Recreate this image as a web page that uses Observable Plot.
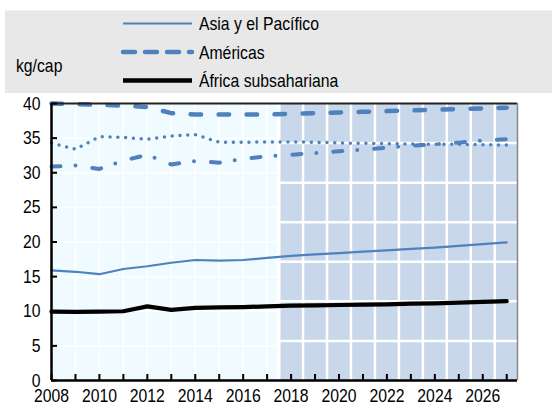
<!DOCTYPE html>
<html>
<head>
<meta charset="utf-8">
<script src="https://cdn.jsdelivr.net/npm/d3@7"></script>
<script src="https://cdn.jsdelivr.net/npm/@observablehq/plot@0.6"></script>
<style>
  html, body { margin: 0; padding: 0; background: #fff; }
  body { width: 552px; height: 405px; overflow: hidden; font-family: "Liberation Sans", Arial, sans-serif; }
  #legend { display: block; }
</style>
</head>
<body>
<div id="chart"></div>
<script>
// ---- data ----
const years = [2008, 2009, 2010, 2011, 2012, 2013, 2014, 2015, 2016, 2017, 2018, 2019, 2020, 2021, 2022, 2023, 2024, 2025, 2026, 2027];
const asiaPacifico = [15.9, 15.7, 15.35, 16.1, 16.5, 17.0, 17.4, 17.3, 17.4, 17.7, 18.0, 18.2, 18.4, 18.6, 18.8, 19.0, 19.2, 19.45, 19.7, 19.95];
const americas = [40.0, 39.9, 39.8, 39.7, 39.5, 38.6, 38.4, 38.4, 38.4, 38.4, 38.5, 38.6, 38.7, 38.8, 38.9, 39.0, 39.1, 39.2, 39.3, 39.4];
const africaSubsahariana = [9.95, 9.9, 9.95, 10.0, 10.7, 10.2, 10.5, 10.55, 10.6, 10.7, 10.8, 10.85, 10.9, 10.95, 11.0, 11.1, 11.15, 11.25, 11.35, 11.45];
const serieDotted = [34.3, 33.4, 35.2, 35.1, 34.85, 35.3, 35.5, 34.4, 34.4, 34.45, 34.45, 34.4, 34.3, 34.25, 34.2, 34.15, 34.1, 34.1, 34.05, 34.0];
const serieDashDot = [30.9, 31.05, 30.55, 31.75, 32.6, 31.2, 31.7, 31.45, 32.0, 32.4, 32.6, 32.85, 33.1, 33.35, 33.6, 33.9, 34.1, 34.35, 34.65, 34.85];
const legendLabels = ["Asia y el Pacífico", "Américas", "África subsahariana"];
const unitLabel = "kg/cap";
const yTicks = [0, 5, 10, 15, 20, 25, 30, 35, 40];
const xLabelYears = [2008, 2010, 2012, 2014, 2016, 2018, 2020, 2022, 2024, 2026];
const firstProjectionYear = 2018;
const projectionRows = 7;

// ---- derived ----
const blue = "#4f81bd";
const xStart = years[0];
const xEnd = years[years.length - 1] + 0.45;
const projStart = firstProjectionYear - 0.5;
const histYears = years.filter(y => y < firstProjectionYear);
const projYears = years.filter(y => y >= firstProjectionYear);
const projBoundaries = projYears.slice(0, -1).map(y => y + 0.5);
const rowLevels = d3.range(1, projectionRows).map(k => 40 * k / projectionRows);
const toRows = arr => years.map((y, i) => ({year: y, v: arr[i]}));
const FONT = '"Liberation Sans", Arial, sans-serif';
const NARROW = 0.83;

// ---- legend ----
const legendStyles = [
  {stroke: blue, width: 2.2, dash: null},
  {stroke: blue, width: 4.5, dash: "12,10"},
  {stroke: "#000", width: 4.5, dash: null}
];
const legendSvg = d3.create("svg").attr("id", "legend").attr("width", 552).attr("height", 93)
  .style("font-family", FONT);
legendSvg.append("rect").attr("x", 5).attr("y", 10.5).attr("width", 547).attr("height", 82.5).attr("fill", "#e8e8e8");
legendSvg.append("text").attr("x", 16).attr("y", 72).attr("font-size", 19).text(unitLabel);
const rowY = [23.5, 52, 80.5];
legendLabels.forEach((lab, i) => {
  const s = legendStyles[i];
  legendSvg.append("line").attr("x1", 123).attr("x2", 192).attr("y1", rowY[i]).attr("y2", rowY[i])
    .attr("stroke", s.stroke).attr("stroke-width", s.width)
    .attr("stroke-dasharray", s.dash).attr("stroke-linecap", s.dash ? "round" : "butt");
  legendSvg.append("text").attr("x", 199).attr("y", rowY[i] + 7).attr("font-size", 19).text(lab);
});

// ---- chart ----
const chart = Plot.plot({
  width: 552,
  height: 312,
  marginLeft: 51,
  marginRight: 35,
  marginTop: 10,
  marginBottom: 25,
  x: {domain: [xStart, xEnd], label: null},
  y: {domain: [0, 40], label: null},
  style: {fontFamily: FONT, fontSize: "19px", color: "#000", background: "transparent", overflow: "visible"},
  marks: [
    Plot.rect([0], {x1: () => xStart, x2: () => projStart - 0.08, y1: () => 0, y2: () => 40, fill: "#f0fbff"}),
    Plot.ruleX(histYears.slice(1), {y1: 0, y2: 40, stroke: "#fff", strokeWidth: 1.5}),
    Plot.ruleY(yTicks.slice(1, -1), {x1: xStart, x2: projStart - 0.08, stroke: "#fff", strokeWidth: 1.5}),
    Plot.rect([0], {x1: () => projStart + 0.08, x2: () => xEnd, y1: () => 0, y2: () => 40, fill: "#c9d7ea"}),
    Plot.ruleX(projBoundaries, {y1: 0, y2: 40, stroke: "#fff", strokeWidth: 2.5}),
    Plot.ruleY(rowLevels, {x1: projStart, x2: xEnd, stroke: "#fff", strokeWidth: 2.5}),
    Plot.line(toRows(serieDashDot), {x: "year", y: "v", stroke: blue, strokeWidth: 4, strokeDasharray: "9,15,0,17", strokeLinecap: "round"}),
    Plot.line(toRows(serieDotted), {x: "year", y: "v", stroke: blue, strokeWidth: 3.5, strokeDasharray: "0,7.8", strokeLinecap: "round"}),
    Plot.line(toRows(americas), {x: "year", y: "v", stroke: blue, strokeWidth: 4.5, strokeDasharray: "10.5,17.5", strokeLinecap: "round"}),
    Plot.line(toRows(asiaPacifico), {x: "year", y: "v", stroke: blue, strokeWidth: 2.2}),
    Plot.line(toRows(africaSubsahariana), {x: "year", y: "v", stroke: "#000", strokeWidth: 4.2}),
    Plot.ruleY([40], {stroke: "#222", strokeWidth: 2}),
    Plot.ruleX([xEnd], {stroke: "#888", strokeWidth: 1.5}),
    Plot.axisY({ticks: yTicks, tickSize: -6, tickPadding: 17, strokeWidth: 2, label: null}),
    Plot.axisX({ticks: years, tickSize: -6, strokeWidth: 2, tickFormat: () => "", label: null}),
    Plot.axisX({ticks: xLabelYears, tickSize: 0, tickPadding: 8, tickFormat: d => String(d), label: null}),
    Plot.ruleX([xStart], {stroke: "#000", strokeWidth: 2.5}),
    Plot.ruleY([0], {stroke: "#000", strokeWidth: 2.5})
  ]
});

const root = document.getElementById("chart");
root.appendChild(legendSvg.node());
root.appendChild(chart);

// condense text horizontally around its anchor (narrow-font look)
function condense(svgNode) {
  svgNode.querySelectorAll("text").forEach(t => {
    if (!t.textContent) return;
    const b = t.getBBox();
    const anchor = getComputedStyle(t).textAnchor || t.getAttribute("text-anchor") || "start";
    const ax = anchor === "end" ? b.x + b.width : anchor === "middle" ? b.x + b.width / 2 : b.x;
    const prev = t.getAttribute("transform") || "";
    t.setAttribute("transform", `${prev} translate(${ax},0) scale(${NARROW},1) translate(${-ax},0)`.trim());
  });
}
condense(legendSvg.node());
condense(chart);
</script>
</body>
</html>
